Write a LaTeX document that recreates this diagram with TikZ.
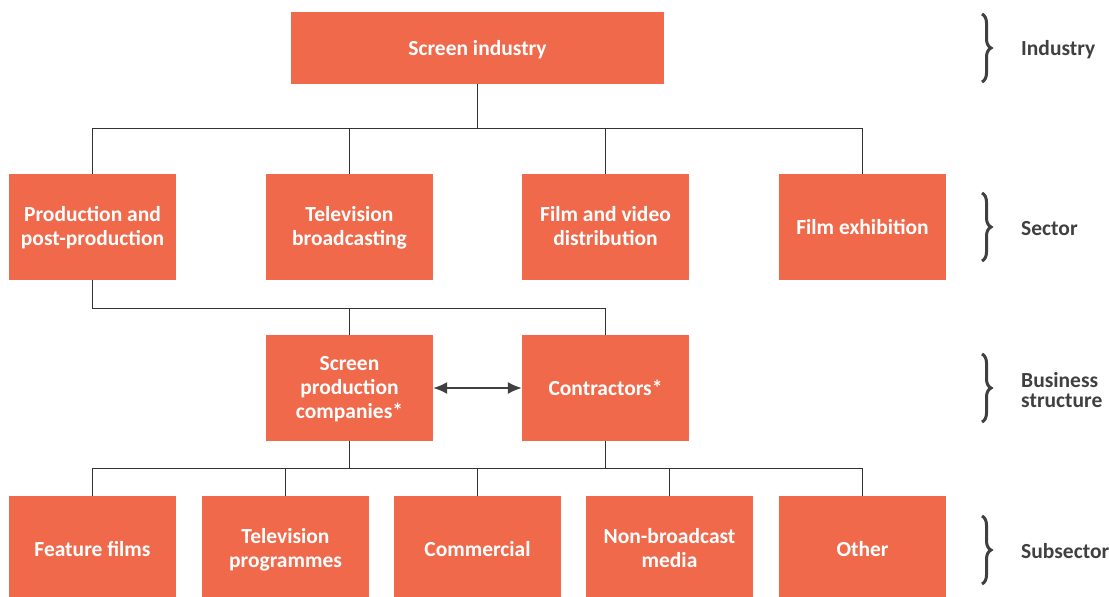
\documentclass[tikz,border=0pt]{standalone}
\usepackage{fontspec}
\setmainfont{Carlito}
\usetikzlibrary{decorations.pathreplacing,arrows.meta}
\definecolor{boxc}{HTML}{F1694B}
\definecolor{labc}{HTML}{404040}
\definecolor{linec}{HTML}{333333}
\tikzset{
  box/.style={fill=boxc, draw=none, inner sep=0pt, minimum width=167pt, minimum height=106pt},
  topbox/.style={box, minimum width=373pt, minimum height=72pt},
  txt/.style={text=white, font=\bfseries\fontsize{21.5}{24}\selectfont, align=center, inner sep=0pt, yshift=-3pt,
    execute at begin node=\strut, execute at end node=\strut},
  txtb/.style={txt, yshift=-2pt},
  conn/.style={draw=linec, line width=1pt},
  dbl/.style={draw=labc, line width=1.5pt, {Latex[length=14pt,width=12pt]}-{Latex[length=14pt,width=12pt]}},
  lvl/.style={text=labc, font=\bfseries\fontsize{21.5}{19.5}\selectfont, anchor=west, align=left, inner sep=0pt},
  brc/.style={draw=labc, line width=3pt, decorate, decoration={brace, amplitude=9pt}}
}
\begin{document}
\begin{tikzpicture}[x=1pt,y=-1pt]
\useasboundingbox (0,0) rectangle (1109,597);
% nodes
\node[topbox, label={[txt]center:{Screen industry}}] (si) at (477.5,48) {};
\node[box, label={[txt]center:{Production and\\post-production}}] (pp) at (92.5,227) {};
\node[box, label={[txt]center:{Television\\broadcasting}}] (tb) at (349.5,227) {};
\node[box, label={[txt]center:{Film and video\\distribution}}] (fv) at (605.5,227) {};
\node[box, label={[txt]center:{Film exhibition}}] (fe) at (862.5,227) {};
\node[box, label={[txt]center:{Screen\\production\\companies*}}] (spc) at (349.5,388) {};
\node[box, label={[txt]center:{Contractors*}}] (con) at (605.5,388) {};
\node[box, minimum height=101pt, label={[txtb]center:{Feature films}}] (ff) at (92.5,546.5) {};
\node[box, minimum height=101pt, label={[txtb]center:{Television\\programmes}}] (tp) at (285.5,546.5) {};
\node[box, minimum height=101pt, label={[txtb]center:{Commercial}}] (cm) at (477.5,546.5) {};
\node[box, minimum height=101pt, label={[txtb]center:{Non-broadcast\\media}}] (nb) at (669.5,546.5) {};
\node[box, minimum height=101pt, label={[txtb]center:{Other}}] (ot) at (862.5,546.5) {};
% bus coordinates
\coordinate (bus1) at (477.5,128);
\coordinate (bus2) at (605.5,308);
\coordinate (bus3) at (477.5,468);
% connectors
\draw[conn] (si.south) -- (bus1);
\foreach \n in {pp,tb,fv,fe} \draw[conn] (\n.north) |- (bus1);
\draw[conn] (pp.south) |- (bus2);
\draw[conn] (con.north) -- (bus2);
\draw[conn] (spc.north) -- (spc.north |- bus2);
\draw[conn] (spc.south) |- (bus3);
\draw[conn] (con.south) |- (bus3);
\foreach \n in {ff,tp,cm,nb,ot} \draw[conn] (\n.north) |- (bus3);
\draw[dbl] (spc.east) -- (con.west);
% braces and labels
\coordinate (b1a) at (982,14); \coordinate (b1b) at (982,82);
\coordinate (b2a) at (982,193); \coordinate (b2b) at (982,261);
\coordinate (b3a) at (982,354); \coordinate (b3b) at (982,422);
\coordinate (b4a) at (982,516); \coordinate (b4b) at (982,584);
\draw[brc] (b1a) -- (b1b);
\draw[brc] (b2a) -- (b2b);
\draw[brc] (b3a) -- (b3b);
\draw[brc] (b4a) -- (b4b);
\node[lvl] (l1) at (1021,50) {Industry};
\node[lvl] (l2) at (1021,229) {Sector};
\node[lvl] (l3) at (1021,390) {Business\\structure};
\node[lvl] (l4) at (1021,551) {Subsector};
\end{tikzpicture}
\end{document}
